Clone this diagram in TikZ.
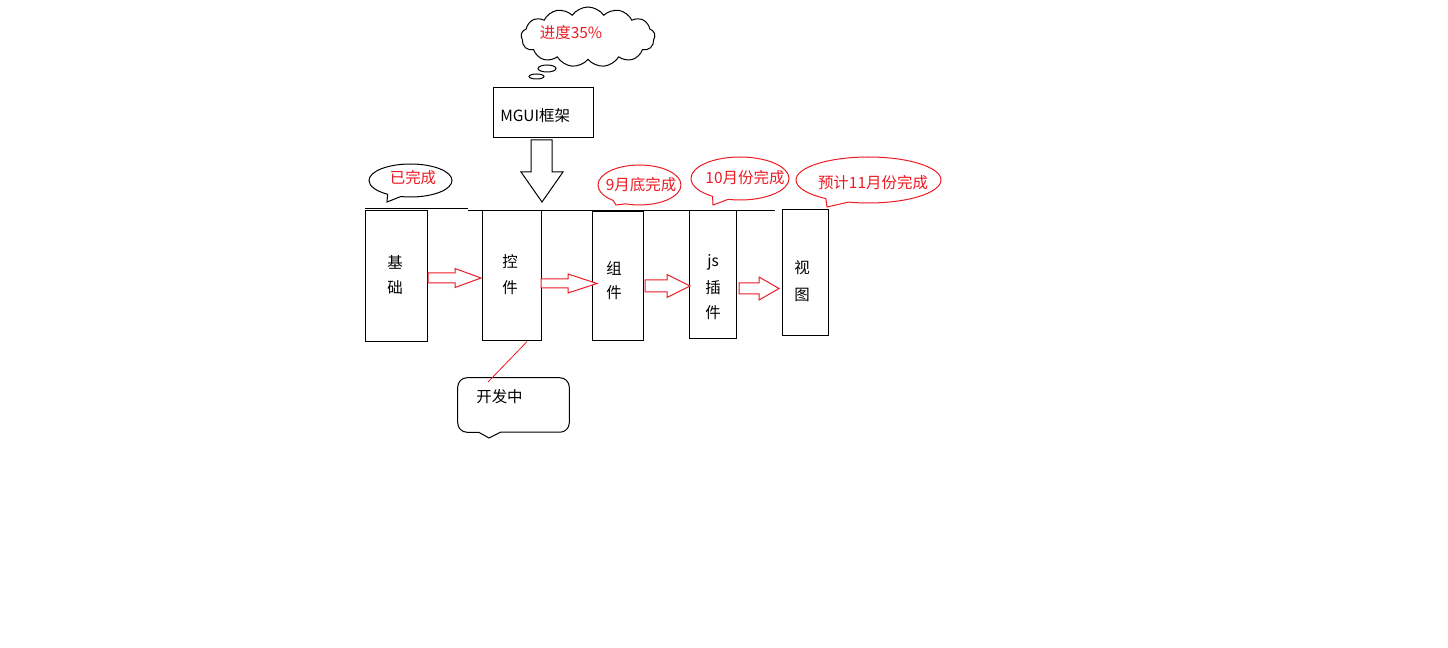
\documentclass[tikz,border=0pt]{standalone}
\usepackage{fontspec}
\setmainfont{Noto Sans CJK SC}
\usetikzlibrary{shapes.symbols,shapes.callouts,calc}
\definecolor{myred}{RGB}{237,28,36}
\tikzset{
  every node/.style={font=\fontsize{11.6}{13}\selectfont},
  ln/.style={line width=0.75pt},
  box/.style={draw,ln,inner sep=0pt},
  redtxt/.style={text=myred,inner sep=0pt},
  blktxt/.style={text=black,inner sep=0pt},
  redarr/.style={draw=myred,ln,fill=white},
  ecall/.style={ellipse callout,draw=myred,ln,inner sep=0pt,callout pointer arc=20},
}
\newcommand\redblk[6]{\draw[redarr] (#1,#4-#5)--(#2,#4-#5)--(#2,#4-#6)--(#3,#4)--(#2,#4+#6)--(#2,#4+#5)--(#1,#4+#5)--cycle;}
\begin{document}
\begin{tikzpicture}[x=0.75pt,y=-0.75pt]
\path[use as bounding box,fill=white] (0,0) rectangle (1448,648);
% cloud
\node[cloud,draw,ln,cloud puffs=13,cloud puff arc=110,aspect=2.1,minimum width=134*0.75pt,minimum height=60*0.75pt,inner sep=0pt] (cl) at (588,37) {};
\draw[ln] (547,68.5) ellipse [x radius=9,y radius=3.5];
\draw[ln] (536.5,76.5) ellipse [x radius=7.5,y radius=2.5];
\node[redtxt] (clt) at (571,33) {进度35\%};
% MGUI box
\node[box,minimum width=100*0.75pt,minimum height=50*0.75pt] (mg) at (543,113) {};
\node[blktxt,anchor=west] (mgt) at (500,116) {MGUI框架};
% big down arrow
\draw[ln,fill=white] (531,140)--(552,140)--(552,172)--(563,172)--(542,202)--(521,172)--(531,172)--cycle;
% timeline
\draw[ln] (365,209)--(468,209);
\draw[ln] (468,211)--(775,211);
% boxes
\node[box,minimum width=62*0.75pt,minimum height=131*0.75pt] (jc) at (396,276.5) {};
\node[box,minimum width=59*0.75pt,minimum height=130*0.75pt] (kj) at (511.5,276) {};
\node[box,minimum width=51*0.75pt,minimum height=129*0.75pt] (zj) at (617.5,276.5) {};
\node[box,minimum width=47*0.75pt,minimum height=128*0.75pt] (js) at (712.5,275) {};
\node[box,minimum width=46*0.75pt,minimum height=126*0.75pt] (st) at (805,273) {};
\node[blktxt] (jct1) at (395,262) {基};
\node[blktxt] (jct2) at (395,288) {础};
\node[blktxt] (kjt1) at (510,262) {控};
\node[blktxt] (kjt2) at (510,288) {件};
\node[blktxt] (zjt1) at (614,268) {组};
\node[blktxt] (zjt2) at (614,293) {件};
\node[blktxt] (jst1) at (713,262) {js};
\node[blktxt] (jst2) at (713,288) {插};
\node[blktxt] (jst3) at (713,313) {件};
\node[blktxt] (stt1) at (802,268) {视};
\node[blktxt] (stt2) at (802,295) {图};
% red block arrows
\redblk{428}{455}{481}{278}{5}{9.5}
\redblk{541}{568}{597}{283.5}{4.5}{9.5}
\redblk{645}{667}{690}{286}{6}{11.5}
\redblk{739}{759}{779}{288.5}{5.5}{11.5}
% callouts
\node[ecall,draw=black,minimum width=83*0.75pt,minimum height=33*0.75pt,callout absolute pointer={(387,202)}] (c1) at (410.5,180.5) {};
\node[redtxt] (c1t) at (413,178) {已完成};
\node[ecall,minimum width=83*0.75pt,minimum height=40*0.75pt,callout absolute pointer={(616,205)}] (c2) at (639.5,185) {};
\node[redtxt] (c2t) at (641,185) {9月底完成};
\node[ecall,minimum width=98*0.75pt,minimum height=43*0.75pt,callout absolute pointer={(713,205)}] (c3) at (740,178.5) {};
\node[redtxt] (c3t) at (745,178) {10月份完成};
\node[ecall,minimum width=145*0.75pt,minimum height=46*0.75pt,callout absolute pointer={(827,207)}] (c4) at (868.5,180) {};
\node[redtxt] (c4t) at (873,183) {预计11月份完成};
% 开发中 callout
\node[inner sep=0pt,minimum width=111*0.75pt,minimum height=54*0.75pt] (c5) at (513.5,405) {};
\draw[ln] (c5.south west) ++(21,0) coordinate (c5a) -- (489,438) coordinate (c5tip) -- ++(12,-6) coordinate (c5b)
  [rounded corners=7pt] -- (c5.south east) -- (c5.north east) -- (c5.north west) -- (c5.south west) -- (c5a);
\node[blktxt] (c5t) at (499.5,397) {开发中};
\coordinate (c5p) at (488,382);
\draw[draw=myred,line width=0.6pt] ($(kj.south west)!0.76!(kj.south east)$) -- (c5p);
\end{tikzpicture}
\end{document}
